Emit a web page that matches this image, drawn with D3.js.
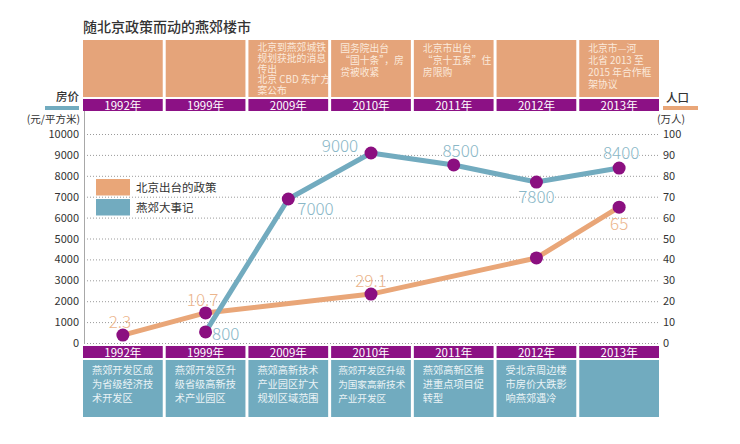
<!DOCTYPE html>
<html><head><meta charset="utf-8">
<script src="https://cdn.jsdelivr.net/npm/d3@7"></script>
<style>
body{margin:0;background:#fff;}
svg{display:block;font-family:"Noto Sans CJK SC","Noto Sans",sans-serif;}
.blk{font-family:"Noto Sans CJK SC",sans-serif;white-space:pre;margin:0;padding:0;}
</style></head><body>
<svg id="c" width="740" height="444"></svg>
<script>
// ---- data ----
const title = "随北京政策而动的燕郊楼市";
const years = ["1992年","1999年","2009年","2010年","2011年","2012年","2013年"];
const policyText = [
  [],
  [],
  ["北京到燕郊城铁","规划获批的消息","传出","北京 CBD 东扩方","案公布"],
  ["国务院出台","“国十条”，房","贷被收紧"],
  ["北京市出台","“京十五条”住","房限购"],
  [],
  ["北京市—河","北省 2013 至","2015 年合作框","架协议"]
];
const eventText = [
  ["燕郊开发区成","为省级经济技","术开发区"],
  ["燕郊开发区升","级省级高新技","术产业园区"],
  ["燕郊高新技术","产业园区扩大","规划区域范围"],
  ["燕郊开发区升级","为国家高新技术","产业开发区"],
  ["燕郊高新区推","进重点项目促","转型"],
  ["受北京周边楼","市房价大跌影","响燕郊遇冷"],
  []
];
const priceYears  = ["1999年","2009年","2010年","2011年","2012年","2013年"];
const priceValues = [530, 6890, 9090, 8520, 7700, 8370];
const priceLabels = ["800","7000","9000","8500","7800","8400"];
const popYears  = ["1992年","1999年","2010年","2012年","2013年"];
const popValues = [3.8, 14.4, 23.4, 40.7, 65];
const popLabels = ["2.3","10.7","29.1","","65"];
const leftTicks  = [0,1000,2000,3000,4000,5000,6000,7000,8000,9000,10000];
const rightTicks = [0,10,20,30,40,50,60,70,80,90,100];
const legendItems = ["北京出台的政策","燕郊大事记"];
const leftAxisTitle = "房价", leftAxisUnit = "(元/平方米)";
const rightAxisTitle = "人口", rightAxisUnit = "(万人)";

// ---- style ----
const C = {
  orangeBox:"#e5a47a", purple:"#8c1185", teal:"#71abbf",
  blueLine:"#72abbf", orangeLine:"#e9a678", dot:"#8b0f80",
  blueLbl:"#8ab7c7", orangeLbl:"#ecb58c", grid:"#9a9a9a", text:"#333"
};
const svg = d3.select("#c");
const x = d3.scaleBand().domain(years).range([83,659]).paddingInner(0.036).paddingOuter(0);
const yL = d3.scaleLinear().domain([0,10000]).range([343,134]);
const yR = d3.scaleLinear().domain([0,100]).range([343,134]);
const cx = d => x(d) + x.bandwidth()/2;

// title
svg.append("text").attr("x",83).attr("y",32).attr("font-size",14).attr("font-weight",500)
  .attr("fill",C.text).text(title);

// multi-line text block inside a box (one text node, so lines share a block)
function block(g, x0, y0, w, h, lines, fs, lh, color){
  g.append("foreignObject").attr("x",x0).attr("y",y0).attr("width",w).attr("height",h)
    .append("xhtml:div").attr("class","blk")
    .style("font-size",fs+"px").style("line-height",lh+"px").style("color",color)
    .text(lines.join("\n"));
}

// boxes
const gBoxes = svg.append("g");
years.forEach((yr,i)=>{
  gBoxes.append("rect").attr("x",x(yr)).attr("y",40).attr("width",x.bandwidth()).attr("height",57).attr("fill",C.orangeBox);
  if (policyText[i].length) {
    const lh = policyText[i].length>4 ? 10.6 : 12;
    const top0 = policyText[i].length>4 ? 42.4 : 41.7;
    block(gBoxes, x(yr)+9, top0, x.bandwidth()-9, 56, policyText[i], 9.8, lh, "#fbe9da");
  }
  gBoxes.append("rect").attr("x",x(yr)).attr("y",99).attr("width",x.bandwidth()).attr("height",12).attr("fill",C.purple);
  gBoxes.append("text").attr("x",cx(yr)).attr("y",109.5).attr("text-anchor","middle").attr("font-size",11.5)
    .attr("fill","#fff").text(yr);
  gBoxes.append("rect").attr("x",x(yr)).attr("y",346).attr("width",x.bandwidth()).attr("height",12).attr("fill",C.purple);
  gBoxes.append("text").attr("x",cx(yr)).attr("y",356.5).attr("text-anchor","middle").attr("font-size",11.5)
    .attr("fill","#fff").text(yr);
  gBoxes.append("rect").attr("x",x(yr)).attr("y",360).attr("width",x.bandwidth()).attr("height",57).attr("fill",C.teal);
  if (eventText[i].length) {
    const wide = eventText[i].some(s=>s.length>6);
    block(gBoxes, x(yr)+(wide?7:9), wide?362.8:362.5, x.bandwidth()-(wide?6:8), 54, eventText[i], wide?9.6:10.2, 14, "#eaf3f6");
  }
});

// gridlines
svg.append("g").selectAll("line").data(leftTicks).join("line")
  .attr("x1",84).attr("x2",659).attr("y1",d=>yL(d)+0.5).attr("y2",d=>yL(d)+0.5)
  .attr("stroke",C.grid).attr("stroke-width",1).attr("stroke-dasharray","1,2");
svg.append("line").attr("x1",84.5).attr("x2",84.5).attr("y1",111).attr("y2",344)
  .attr("stroke","#a8a8a8").attr("stroke-width",1);

// axes
const gl = svg.append("g").attr("transform","translate(84,0)")
  .call(d3.axisLeft(yL).tickValues(leftTicks).tickSize(0).tickPadding(5).tickFormat(d3.format("d")));
gl.select(".domain").remove();
gl.selectAll("text").attr("font-size",11).attr("fill",C.text).attr("font-family","Noto Sans CJK SC");
const gr = svg.append("g").attr("transform","translate(659,0)")
  .call(d3.axisRight(yR).tickValues(rightTicks).tickSize(0).tickPadding(4).tickFormat(d3.format("d")));
gr.select(".domain").remove();
gr.selectAll("text").attr("font-size",11).attr("fill",C.text).attr("font-family","Noto Sans CJK SC");

// axis titles
svg.append("text").attr("x",79).attr("y",101).attr("text-anchor","end").attr("font-size",11.5).attr("font-weight",500).attr("fill",C.text).text(leftAxisTitle);
svg.append("rect").attr("x",45).attr("y",106).attr("width",34).attr("height",4).attr("fill",C.teal);
svg.append("text").attr("x",80).attr("y",123).attr("text-anchor","end").attr("font-size",10.5).attr("fill",C.text).text(leftAxisUnit);
svg.append("text").attr("x",666).attr("y",102).attr("font-size",11.5).attr("font-weight",500).attr("fill",C.text).text(rightAxisTitle);
svg.append("rect").attr("x",663).attr("y",106).attr("width",35).attr("height",4).attr("fill",C.orangeLine);
svg.append("text").attr("x",657).attr("y",123).attr("font-size",10.5).attr("fill",C.text).text(rightAxisUnit);

// legend
const legColors = [C.orangeLine, C.blueLine];
legendItems.forEach((t,i)=>{
  svg.append("rect").attr("x",96).attr("y",179+i*20).attr("width",34).attr("height",16.5).attr("fill",legColors[i]);
  svg.append("text").attr("x",136).attr("y",191.5+i*20.5).attr("font-size",11.5).attr("fill",C.text).text(t);
});

// lines
const popData = popYears.map((y,i)=>({y, v:popValues[i], l:popLabels[i]}));
const priceData = priceYears.map((y,i)=>({y, v:priceValues[i], l:priceLabels[i]}));
svg.append("path").datum(popData)
  .attr("d", d3.line().x(d=>cx(d.y)).y(d=>yR(d.v)))
  .attr("fill","none").attr("stroke",C.orangeLine).attr("stroke-width",5).attr("stroke-linejoin","round");
svg.append("path").datum(priceData)
  .attr("d", d3.line().x(d=>cx(d.y)).y(d=>yL(d.v)))
  .attr("fill","none").attr("stroke",C.blueLine).attr("stroke-width",5).attr("stroke-linejoin","round");

// dots
svg.append("g").selectAll("circle").data(popData).join("circle")
  .attr("cx",d=>cx(d.y)).attr("cy",d=>yR(d.v)).attr("r",6.5).attr("fill",C.dot);
svg.append("g").selectAll("circle").data(priceData).join("circle")
  .attr("cx",d=>cx(d.y)).attr("cy",d=>yL(d.v)).attr("r",6.5).attr("fill",C.dot);

// value labels (offsets are layout only)
const popOff = [[-3,-7],[-3,-7],[0,-7],[0,0],[0,23]];
const priceOff = [[6.5,8,"start"],[9,16,"start"],[-31,-1,"middle"],[7,-8,"middle"],[0,21,"middle"],[2,-9,"middle"]];
svg.append("g").selectAll("text").data(popData.filter(d=>d.l)).join("text")
  .attr("x",d=>cx(d.y)+popOff[popData.indexOf(d)][0]).attr("y",d=>yR(d.v)+popOff[popData.indexOf(d)][1])
  .attr("text-anchor","middle").attr("font-size",17).attr("font-weight",300)
  .attr("fill",C.orangeLbl).text(d=>d.l);
svg.append("g").selectAll("text").data(priceData).join("text")
  .attr("x",(d,i)=>cx(d.y)+priceOff[i][0]).attr("y",(d,i)=>yL(d.v)+priceOff[i][1])
  .attr("text-anchor",(d,i)=>priceOff[i][2]).attr("font-size",17).attr("font-weight",300)
  .attr("fill",C.blueLbl).attr("stroke","#fff").attr("stroke-width",2).attr("paint-order","stroke").text(d=>d.l);
</script>
</body></html>
